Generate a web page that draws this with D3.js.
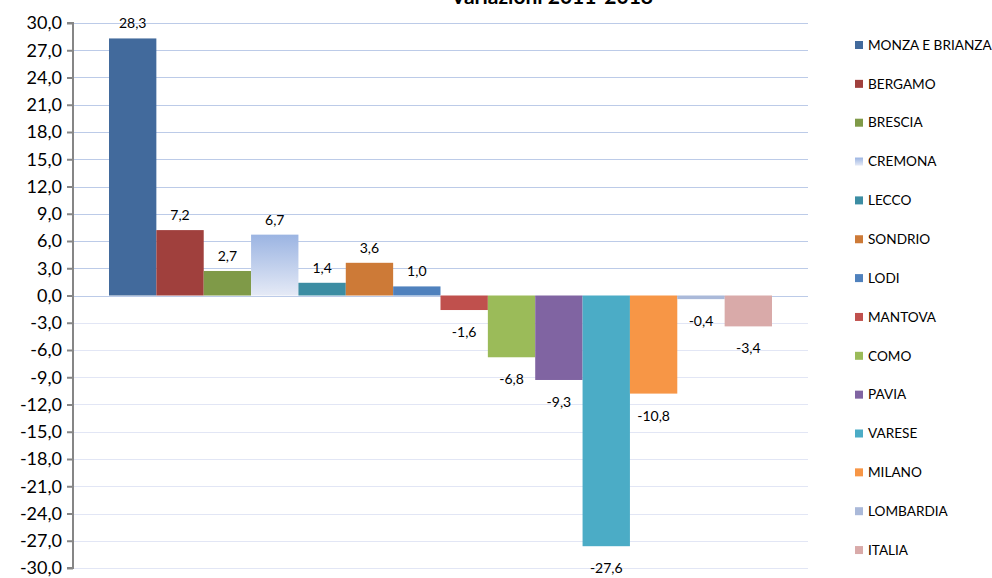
<!DOCTYPE html>
<html><head><meta charset="utf-8">
<script src="https://cdn.jsdelivr.net/npm/d3@7"></script>
<style>
html,body{margin:0;padding:0;background:#fff;}
svg{display:block;font-family:Lato,"Open Sans",sans-serif;}
</style></head>
<body><svg id="c" width="992" height="578"></svg>
<script>
const categories = ["MONZA E BRIANZA","BERGAMO","BRESCIA","CREMONA","LECCO","SONDRIO","LODI","MANTOVA","COMO","PAVIA","VARESE","MILANO","LOMBARDIA","ITALIA"];
const values = [28.3, 7.2, 2.7, 6.7, 1.4, 3.6, 1.0, -1.6, -6.8, -9.3, -27.6, -10.8, -0.4, -3.4];
const colors = ["#426a9c","#a0403d","#7f9a48","url(#gradCremona)","#3c8da3","#cd7a37","#4f81bd","#c0504d","#9bbb59","#8064a2","#4bacc6","#f79646","#aab9d9","#d9aaa9"];
const tickValues = d3.range(-30, 30.001, 3);
const title = "Variazioni 2011-2018";

const svg = d3.select("#c");
const defs = svg.append("defs");
const g1 = defs.append("linearGradient").attr("id","gradCremona").attr("x1",0).attr("y1",0).attr("x2",0).attr("y2",1);
g1.append("stop").attr("offset","0%").attr("stop-color","#9bb4e2");
g1.append("stop").attr("offset","100%").attr("stop-color","#e5eaf6");

const plotL = 73, plotR = 808, plotT = 23, plotB = 568;
const y = d3.scaleLinear().domain([-30, 30]).range([plotB, plotT]);
const x = d3.scaleBand().domain(categories).range([109, 772]).paddingInner(0).paddingOuter(0);
const fmt = v => d3.format(".1f")(v).replace(".", ",").replace("−","-");

// gridlines
svg.append("g").selectAll("line").data(tickValues).join("line")
  .attr("x1", plotL).attr("x2", plotR)
  .attr("y1", d => Math.round(y(d)) + 0.5).attr("y2", d => Math.round(y(d)) + 0.5)
  .attr("stroke", d => d >= 0 ? "#bccbe8" : "#e2e6f5").attr("stroke-width", 1.2);

// bars
svg.append("g").selectAll("rect").data(categories).join("rect")
  .attr("x", d => x(d))
  .attr("width", x.bandwidth())
  .attr("y", (d,i) => y(Math.max(0, values[i])))
  .attr("height", (d,i) => Math.abs(y(values[i]) - y(0)))
  .attr("fill", (d,i) => colors[i]);

// labels
svg.append("g").selectAll("text").data(categories).join("text")
  .attr("x", d => x(d) + x.bandwidth()/2)
  .attr("y", (d,i) => values[i] >= 0 ? y(values[i]) - 10 : y(values[i]) + 27)
  .attr("text-anchor", "middle")
  .attr("font-size", 14).attr("fill", "#000")
  .text((d,i) => fmt(values[i]));

// axis
const axis = d3.axisLeft(y).tickValues(tickValues).tickSize(6).tickPadding(5).tickFormat(fmt);
const ax = svg.append("g").attr("transform", `translate(${plotL},0)`).call(axis);
ax.select(".domain").attr("stroke", "#868686").attr("stroke-width", 2).attr("d", `M-6,${plotT}H0V${plotB}H-6`);
ax.selectAll(".tick line").attr("stroke", "#868686").attr("stroke-width", 2);
ax.selectAll(".tick text").attr("font-size", 18).attr("fill", "#000").attr("font-family", "Lato, sans-serif");

// title
svg.append("text").attr("x", 552).attr("y", 4).attr("text-anchor", "middle")
  .attr("font-size", 21).attr("font-weight", "bold").attr("fill", "#000").text(title);

// legend
const leg = svg.append("g").selectAll("g").data(categories).join("g")
  .attr("transform", (d,i) => `translate(855,${45 + i*38.85})`);
leg.append("rect").attr("x", 0).attr("y", -4).attr("width", 8).attr("height", 8)
  .attr("fill", (d,i) => colors[i]);
leg.append("text").attr("x", 13).attr("y", 0).attr("dy", "0.35em")
  .attr("font-size", 13.6).attr("fill", "#000").text(d => d);
</script></body></html>
